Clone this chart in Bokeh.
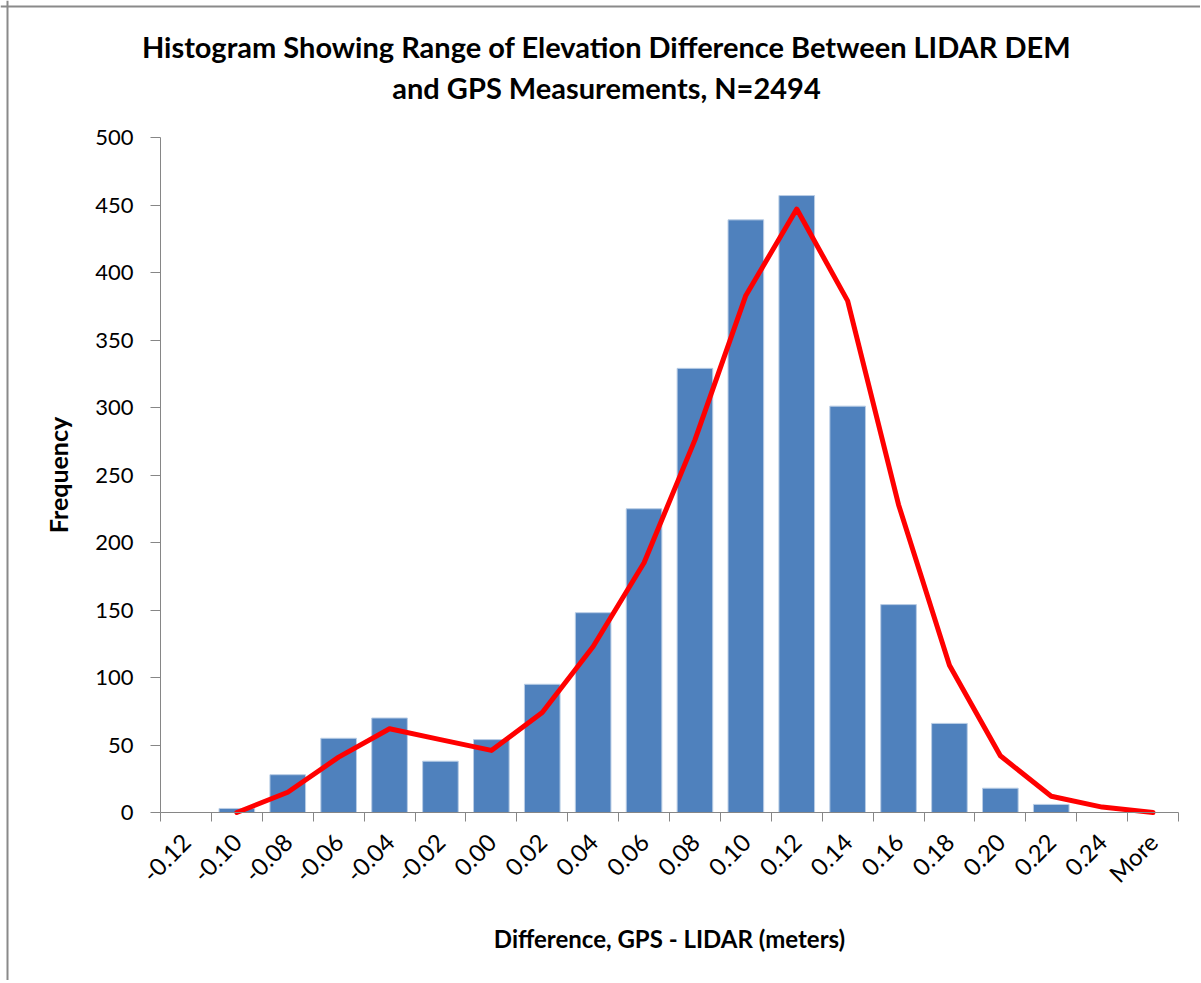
from math import pi
from bokeh.plotting import figure
from bokeh.models import (Range1d, FixedTicker, CustomJSTickFormatter, Label,
                          ColumnDataSource, LinearAxis, Span)
from bokeh.embed import file_html
from bokeh.resources import INLINE

# ---- data ----
categories = ["-0.12", "-0.10", "-0.08", "-0.06", "-0.04", "-0.02", "0.00",
              "0.02", "0.04", "0.06", "0.08", "0.10", "0.12", "0.14", "0.16",
              "0.18", "0.20", "0.22", "0.24", "More"]
frequency = [0, 3, 28, 55, 70, 38, 54, 95, 148, 225, 329, 439, 457, 301, 154,
             66, 18, 6, 0, 0]
trend = [float("nan"), 0, 15, 41, 62, 54, 46, 74, 123, 185, 276, 383, 447,
         379, 228, 109, 42, 12, 4, 0]
y_ticks = [0, 50, 100, 150, 200, 250, 300, 350, 400, 450, 500]
title_lines = ["Histogram Showing Range of Elevation Difference Between LIDAR DEM",
               "and GPS Measurements, N=2494"]
x_label = "Difference, GPS - LIDAR (meters)"
y_label = "Frequency"

FONT = "Lato"
GRAY = "#868686"

# ---- layout (pixels on the canvas) ----
W, H = 1200, 980
AX_LEFT, AX_RIGHT = 160, 1178       # x-axis extent
AX_BOTTOM, AX_TOP = 812, 137        # y = 0 and y = Y_MAX
Y_MAX = 500

n = len(categories)
centers = [i + 0.5 for i in range(n)]
bounds = list(range(n + 1))

cat_px = (AX_RIGHT - AX_LEFT) / n
unit_px = (AX_BOTTOM - AX_TOP) / Y_MAX

def px_to_x(px):
    return (px - AX_LEFT) / cat_px

def py_to_y(py):
    return (AX_BOTTOM - py) / unit_px

src = ColumnDataSource(dict(x=centers, top=frequency, trend=trend))

# the frame covers the whole canvas; axes are pinned with fixed_location
p = figure(width=W, height=H, output_backend="svg", toolbar_location=None,
           x_range=Range1d(px_to_x(0), px_to_x(W)),
           y_range=Range1d(py_to_y(H), py_to_y(0)),
           min_border=0, x_axis_location=None, y_axis_location=None)
p.outline_line_color = None
p.xgrid.visible = False
p.ygrid.visible = False
p.background_fill_color = "white"
p.border_fill_color = "white"

p.vbar(x="x", top="top", width=0.70, bottom=0, source=src,
       fill_color="#4F81BD", line_color="#B9CDE5", line_width=1)
p.line(x="x", y="trend", source=src, line_color="#FF0000", line_width=5,
       line_join="round", line_cap="round")

# x axis
xaxis = LinearAxis(ticker=FixedTicker(ticks=centers, minor_ticks=bounds),
                   formatter=CustomJSTickFormatter(args=dict(labels=categories),
                        code="const i = Math.round(tick - 0.5); return (i >= 0 && i < labels.length) ? labels[i] : '';"),
                   fixed_location=0, bounds=(0, n))
xaxis.axis_line_color = GRAY
xaxis.major_tick_line_color = None
xaxis.major_tick_out = 0
xaxis.major_tick_in = 0
xaxis.minor_tick_line_color = GRAY
xaxis.minor_tick_out = 9
xaxis.minor_tick_in = 0
xaxis.major_label_orientation = pi / 4
xaxis.major_label_text_font = FONT
xaxis.major_label_text_font_size = "24px"
xaxis.major_label_text_color = "#000000"
xaxis.major_label_standoff = 16
xaxis.axis_label = x_label
xaxis.axis_label_text_font = FONT
xaxis.axis_label_text_font_style = "bold"
xaxis.axis_label_text_font_size = "24px"
xaxis.axis_label_text_color = "#000000"
xaxis.axis_label_standoff = 23
p.add_layout(xaxis, "below")

# y axis
yaxis = LinearAxis(ticker=FixedTicker(ticks=y_ticks, minor_ticks=[]),
                   fixed_location=0, bounds=(0, Y_MAX))
yaxis.axis_line_color = GRAY
yaxis.major_tick_line_color = GRAY
yaxis.major_tick_out = 10
yaxis.major_tick_in = 0
yaxis.minor_tick_line_color = None
yaxis.major_label_text_font = FONT
yaxis.major_label_text_font_size = "22px"
yaxis.major_label_text_color = "#000000"
yaxis.major_label_standoff = 17
yaxis.axis_label = y_label
yaxis.axis_label_text_font = FONT
yaxis.axis_label_text_font_style = "bold"
yaxis.axis_label_text_font_size = "25px"
yaxis.axis_label_text_color = "#000000"
yaxis.axis_label_standoff = 19
p.add_layout(yaxis, "left")

# title, centred over the whole chart area as in the reference
for txt, py in zip(title_lines, [46, 87]):
    p.add_layout(Label(x=px_to_x(606), y=py_to_y(py), text=txt,
                       text_align="center", text_baseline="middle",
                       text_font=FONT, text_font_style="bold",
                       text_font_size="29px", text_color="#000000"))

# chart-area border: only its left and top edges are inside the picture
p.add_layout(Span(location=px_to_x(7), dimension="height",
                  line_color="#8a8a8a", line_width=2))
p.add_layout(Span(location=py_to_y(6), dimension="width",
                  line_color="#8a8a8a", line_width=2))

open("out.html", "w").write(file_html(p, INLINE))
